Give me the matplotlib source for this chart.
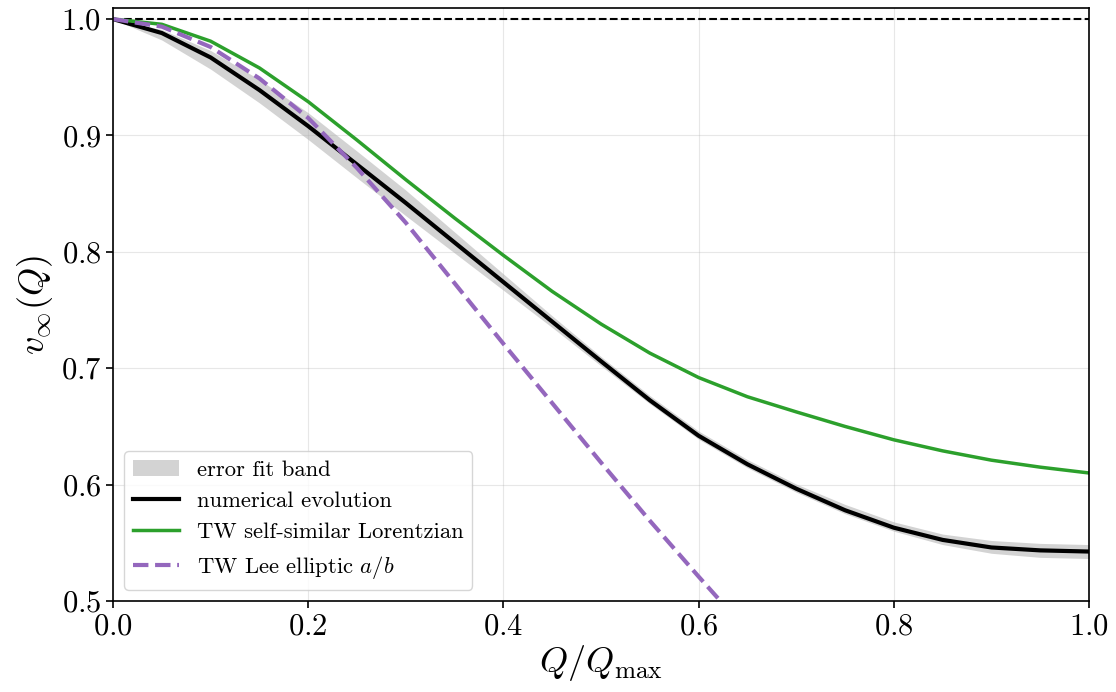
import matplotlib
matplotlib.use("Agg")
import matplotlib.pyplot as plt
import numpy as np

plt.rcParams["font.family"] = "serif"
plt.rcParams["font.serif"] = ["cmr10"]
plt.rcParams["mathtext.fontset"] = "cm"
plt.rcParams["axes.formatter.use_mathtext"] = True
plt.rcParams["axes.unicode_minus"] = False

# Q/Qmax grid
q = [0.0, 0.05, 0.1, 0.15, 0.2, 0.25, 0.3, 0.35, 0.4, 0.45, 0.5,
     0.55, 0.6, 0.65, 0.7, 0.75, 0.8, 0.85, 0.9, 0.95, 1.0]

# numerical evolution
v_num = [1.0, 0.988, 0.967, 0.939, 0.908, 0.875, 0.842, 0.808, 0.774, 0.740, 0.706,
         0.6725, 0.642, 0.6175, 0.5965, 0.578, 0.563, 0.5525, 0.546, 0.5435, 0.5425]

# error fit band (lower / upper edge)
band_lo = [1.0, 0.982, 0.957, 0.928, 0.8965, 0.8635, 0.831, 0.799, 0.767, 0.735, 0.702,
           0.6695, 0.639, 0.6145, 0.5935, 0.575, 0.560, 0.5485, 0.541, 0.5375, 0.5365]
band_hi = [1.0, 0.991, 0.973, 0.948, 0.9195, 0.8865, 0.853, 0.817, 0.781, 0.745, 0.710,
           0.6765, 0.646, 0.6215, 0.6005, 0.583, 0.568, 0.5575, 0.552, 0.5495, 0.5485]

# TW self-similar Lorentzian
v_lor = [1.0, 0.9955, 0.981, 0.958, 0.929, 0.896, 0.862, 0.829, 0.797, 0.766, 0.738,
         0.713, 0.692, 0.6755, 0.6625, 0.650, 0.6385, 0.629, 0.621, 0.615, 0.610]

# TW Lee elliptic a/b
q_lee = [0.0, 0.05, 0.1, 0.15, 0.2, 0.25, 0.3, 0.35, 0.4, 0.45, 0.5, 0.55, 0.6, 0.65]
v_lee = [1.0, 0.9935, 0.976, 0.949, 0.915, 0.872, 0.825, 0.773, 0.721, 0.670, 0.619,
         0.569, 0.521, 0.474]

fig, ax = plt.subplots(figsize=(11.16, 6.92), dpi=100)
fig.subplots_adjust(left=0.1013, right=0.9758, top=0.9884, bottom=0.1315)

ax.axhline(1.0, color="black", ls="--", lw=1.5)
ax.fill_between(q, band_lo, band_hi, color="#d3d3d3", lw=0, label="error fit band")
ax.plot(q, v_num, color="black", lw=3, label="numerical evolution")
ax.plot(q, v_lor, color="#2ca02c", lw=2.5, label="TW self-similar Lorentzian")
ax.plot(q_lee, v_lee, color="#9467bd", lw=3, ls="--", label=r"TW Lee elliptic $a/b$")

ax.set_xlim(0, 1)
ax.set_ylim(0.5, 1.0095)
ax.set_xticks([0.0, 0.2, 0.4, 0.6, 0.8, 1.0])
ax.set_yticks([0.5, 0.6, 0.7, 0.8, 0.9, 1.0])
ax.set_xlabel(r"$Q/Q_{\rm max}$", fontsize=26, labelpad=2)
ax.set_ylabel(r"$v_\infty(Q)$", fontsize=26)
ax.tick_params(labelsize=22, width=1.2, length=5)
for s in ax.spines.values():
    s.set_linewidth(1.2)
ax.grid(True, alpha=0.3)

ax.legend(loc="lower left", fontsize=16.3, framealpha=0.8)

plt.savefig("out.png", dpi=100)
